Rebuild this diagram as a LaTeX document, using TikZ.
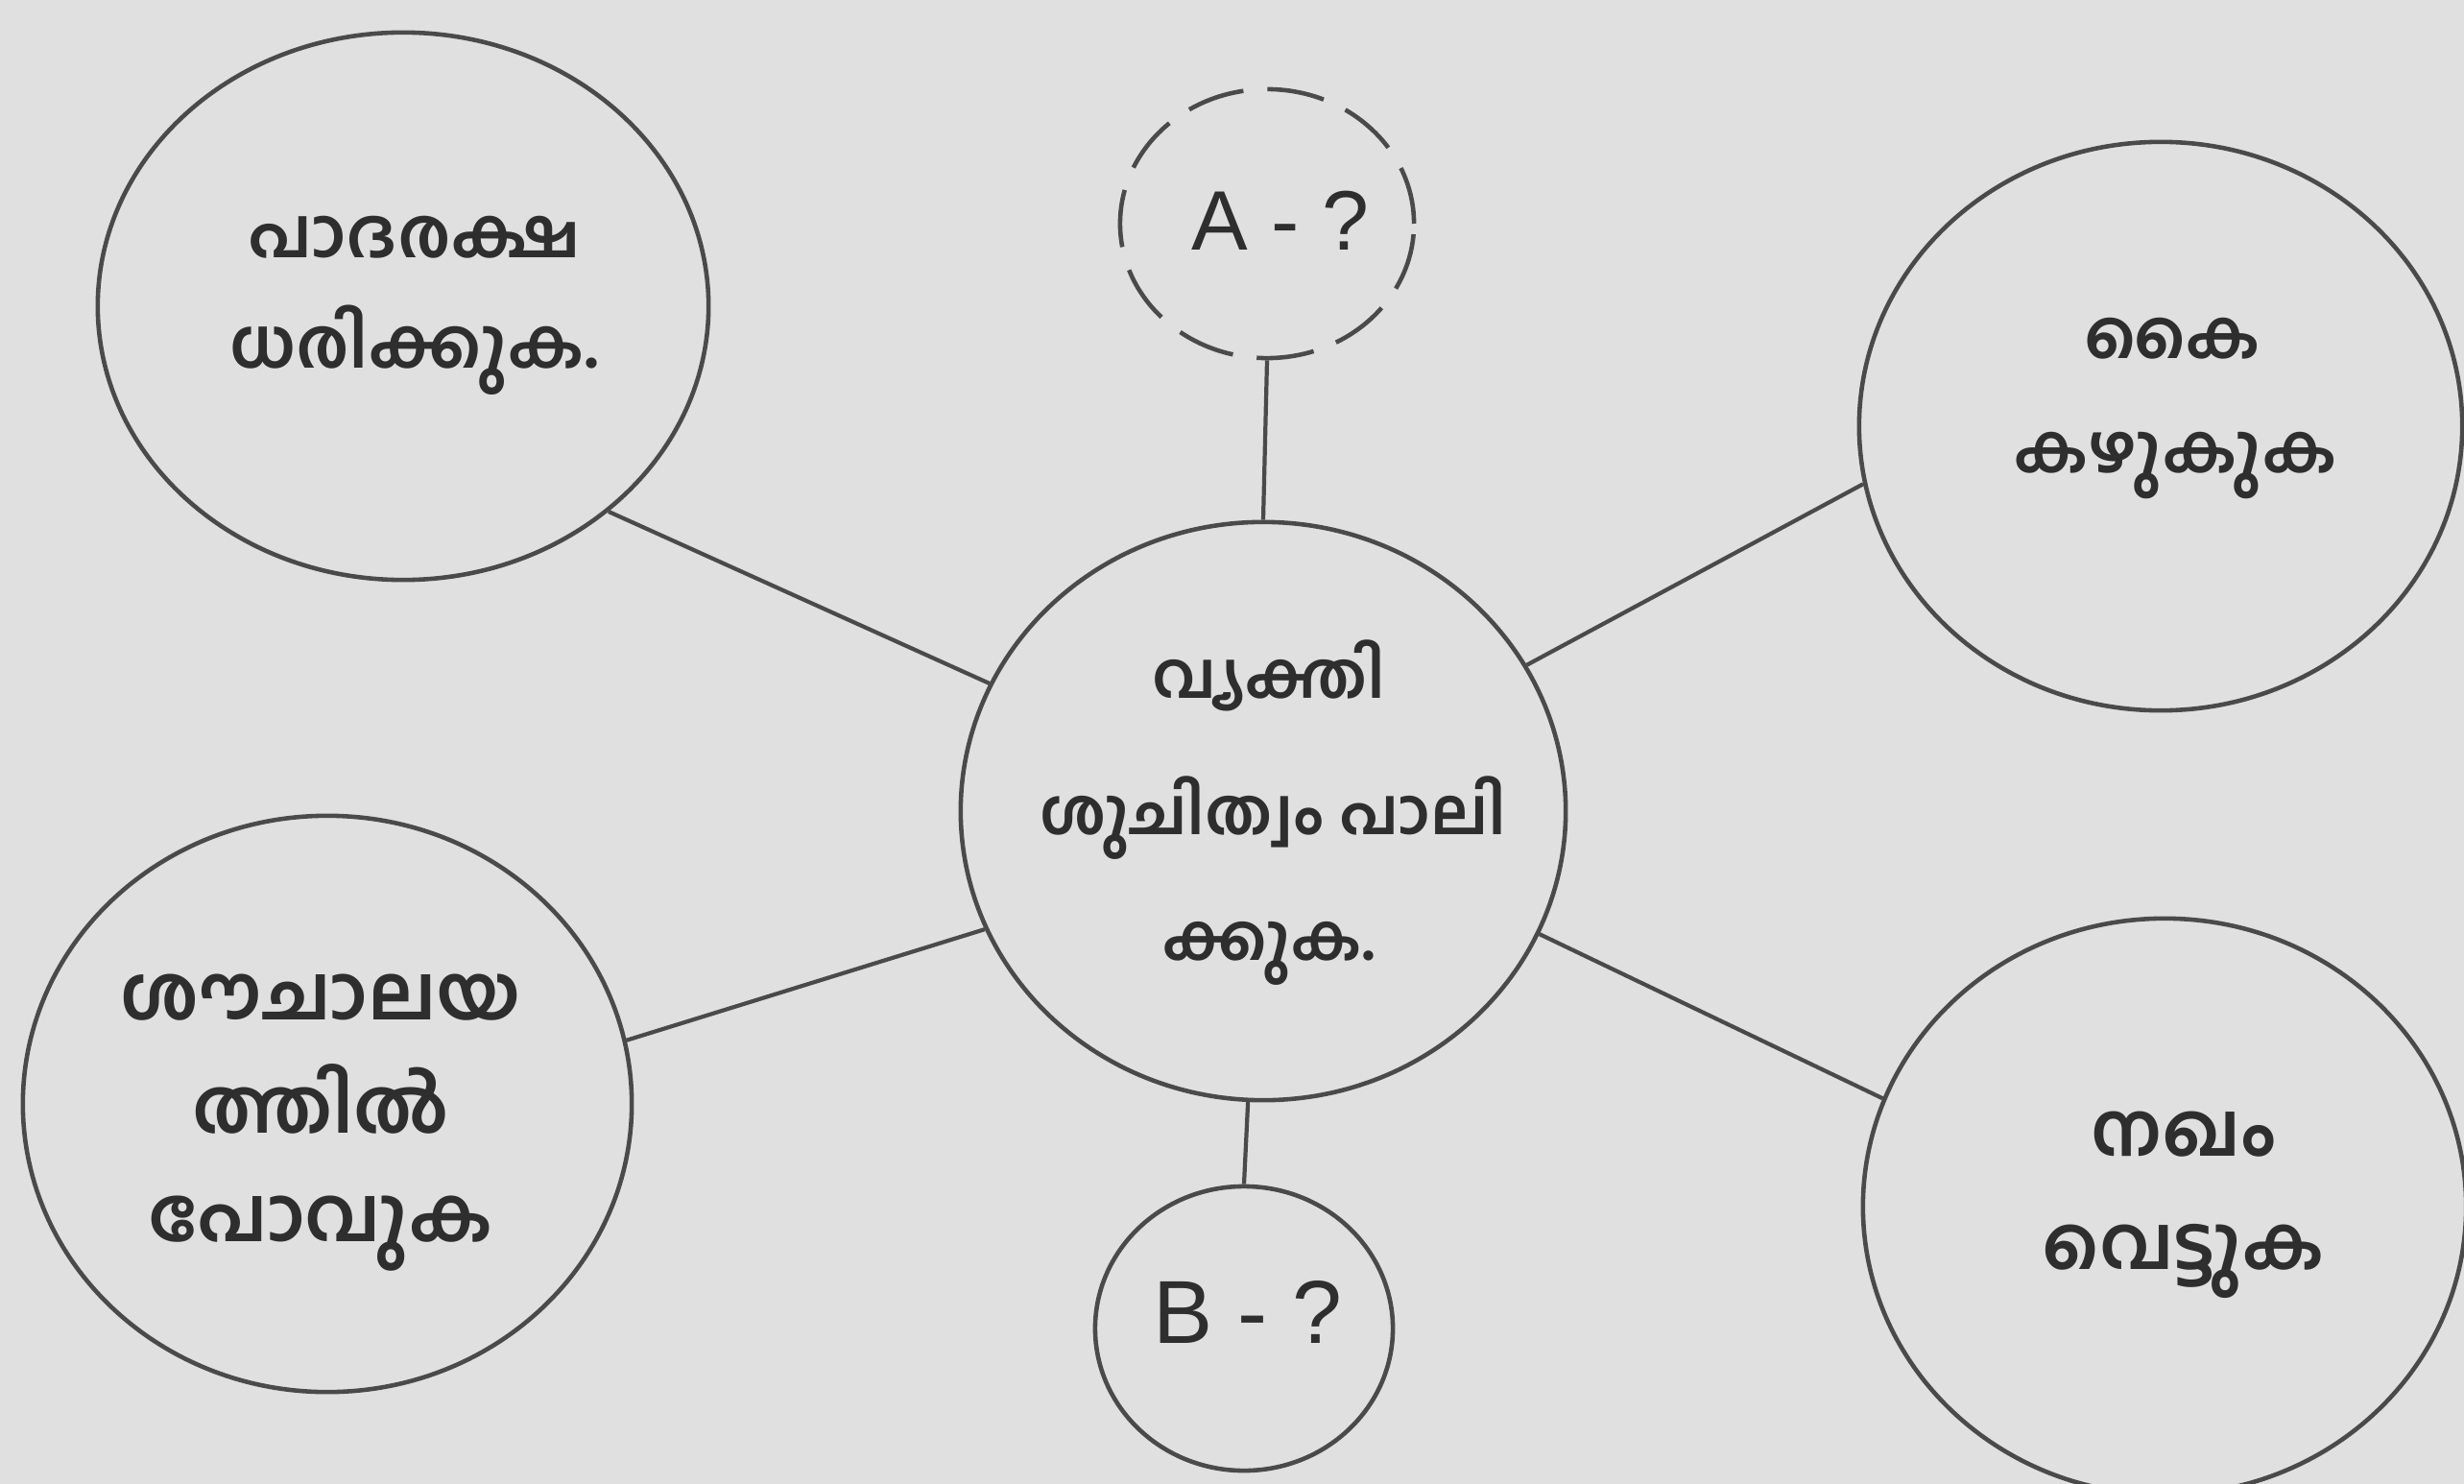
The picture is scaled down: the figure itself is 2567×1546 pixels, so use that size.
\documentclass[tikz,border=0pt]{standalone}
\usepackage{fontspec}
\setmainfont{Liberation Sans}
\newfontfamily\mal[Script=Malayalam]{Hind Kochi}
\usetikzlibrary{shapes.geometric}
\definecolor{bg}{HTML}{E0E0E0}
\definecolor{ink}{HTML}{4A4A4A}
\definecolor{txt}{HTML}{2E2E2E}
\begin{document}
\begin{tikzpicture}[x=0.01cm,y=-0.01cm,
  bub/.style 2 args={ellipse,draw=ink,line width=1.3pt,inner sep=0pt,minimum width=#1,minimum height=#2},
  link/.style={draw=ink,line width=1.2pt},
  mt/.style={font=\mal\bfseries\fontsize{#1}{#1}\selectfont,text=txt,inner sep=0pt},
  lt/.style={font=\fontsize{#1}{#1}\selectfont,text=txt,inner sep=0pt}]
\fill[bg] (0,0) rectangle (2567,1546);
\useasboundingbox (0,0) rectangle (2567,1546);
% bubbles
\node[bub={6.36cm}{5.70cm}] (tl) at (420,319) {};
\node[bub={6.30cm}{6.02cm}] (c)  at (1316,845) {};
\node[bub={6.28cm}{5.92cm}] (tr) at (2251,444) {};
\node[bub={6.28cm}{6.00cm}] (br) at (2255,1257) {};
\node[bub={6.34cm}{6.00cm}] (bl) at (341,1150) {};
\node[bub={3.06cm}{2.80cm},dash pattern=on 0.6cm off 0.25cm] (a) at (1320,233) {};
\node[bub={3.10cm}{2.96cm}] (b) at (1296,1384) {};
% connectors
\draw[link] (tl.-45) -- (c.155.9);
\draw[link] (tr.-169.4) -- (c.29.7);
\draw[link] (br.159) -- (c.-24.5);
\draw[link] (bl.12.8) -- (c.-157.2);
\draw[link] (a.south) -- (c.north);
\draw[link] (c.-93) -- (b.north);
% texts
\node[mt=20.5pt] (tl1) at (432,247) {പാദരക്ഷ};
\node[mt=20.5pt] (tl2) at (432,365) {ധരിക്കുക.};
\node[mt=20pt] (tr1) at (2263,353) {കൈ};
\node[mt=20pt] (tr2) at (2266,485) {കഴുകുക};
\node[mt=19pt] (c1) at (1322,704) {വ്യക്തി};
\node[mt=19pt] (c2) at (1326,852) {ശുചിത്വം പാലി};
\node[mt=19pt] (c3) at (1322,993) {ക്കുക.};
\node[mt=22.5pt] (bl1) at (334,1039) {ശൗചാലയ};
\node[mt=22.5pt] (bl2) at (334,1145) {ത്തിൽ};
\node[mt=22.5pt] (bl3) at (334,1285) {പോവുക};
\node[mt=22pt] (br1) at (2275,1182) {നഖം};
\node[mt=22pt] (br2) at (2275,1314) {വെട്ടുക};
\node[lt=25pt] (at) at (1334,230) {A - ?};
\node[lt=26.5pt] (bt) at (1300,1367) {B - ?};
\end{tikzpicture}
\end{document}
